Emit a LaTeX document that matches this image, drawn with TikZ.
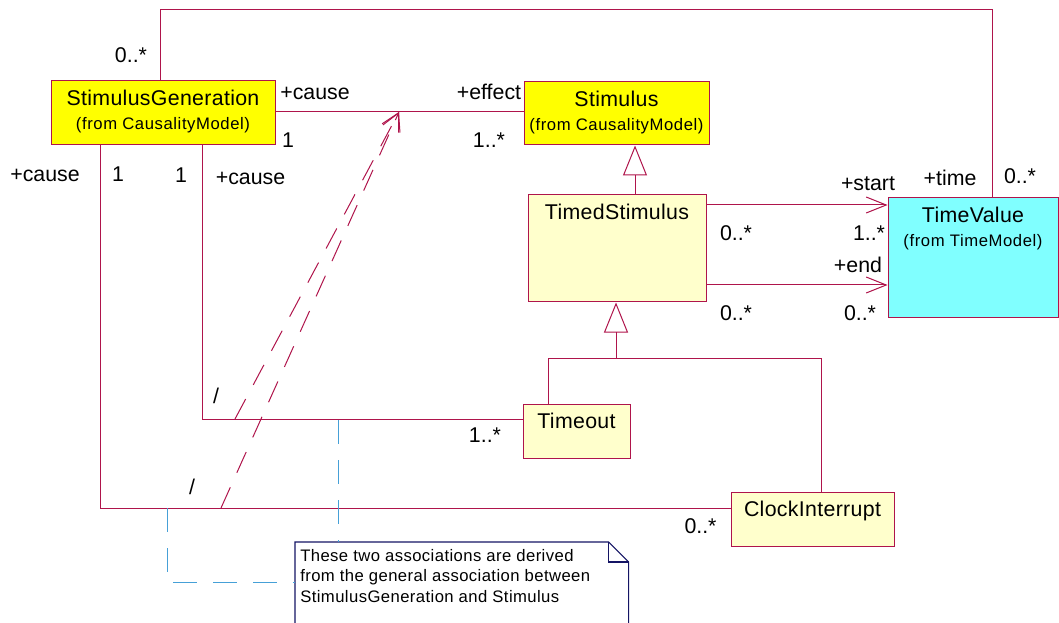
\documentclass[tikz,border=0pt]{standalone}
\usepackage{fontspec}
\setmainfont{Liberation Sans}
\usetikzlibrary{arrows.meta}
\definecolor{ln}{RGB}{175,20,75}
\definecolor{clsY}{RGB}{255,255,0}
\definecolor{clsL}{RGB}{255,255,204}
\definecolor{clsC}{RGB}{128,255,255}
\definecolor{notec}{RGB}{20,20,100}
\definecolor{anc}{RGB}{70,160,215}
\begin{document}
\begin{tikzpicture}[x=0.75pt,y=-0.75pt,
  cls/.style={draw=ln, line width=0.75pt, inner sep=0pt, rectangle},
  cname/.style={font=\fontsize{16}{19}\selectfont\addfontfeature{LetterSpace=1.5}, anchor=base, inner sep=0pt},
  csub/.style={font=\fontsize{12.5}{15}\selectfont\addfontfeature{LetterSpace=3.5}, anchor=base, inner sep=0pt},
  lbl/.style={font=\fontsize{16}{19}\selectfont, inner sep=0pt, text height=11.5pt, text depth=0pt},
  assoc/.style={draw=ln, line width=0.75pt},
  nav/.style={assoc, -{Straight Barb[length=15pt, width=12pt, line width=0.75pt]}},
  derived/.style={assoc, dash pattern=on 17pt off 12pt, -{Straight Barb[length=13pt, width=14pt, line width=0.75pt]}},
  gen/.style={assoc, -{Triangle[open, length=22.5pt, width=18pt, line width=0.75pt]}},
  anchorl/.style={draw=anc, line width=0.75pt, dash pattern=on 18pt off 12pt},
  notetext/.style={font=\fontsize{12.5}{15.4}\selectfont\addfontfeature{LetterSpace=2.5}, align=left, inner sep=0pt, anchor=north west}
]
\useasboundingbox (0,0) rectangle (1059,623);

% classes
\node[cls, fill=clsY, minimum width=168pt, minimum height=48pt] (SG) at (163,113) {};
\node[cname] (SGn) at ([yshift=-19pt]SG.north) {StimulusGeneration};
\node[csub] (SGs) at ([yshift=-36.75pt]SG.north) {(from CausalityModel)};

\node[cls, fill=clsY, minimum width=138.75pt, minimum height=47.25pt] (Stim) at (616.5,113.5) {};
\node[cname] (Stimn) at ([yshift=-19pt]Stim.north) {Stimulus};
\node[csub] (Stims) at ([yshift=-36.75pt]Stim.north) {(from CausalityModel)};

\node[cls, fill=clsL, minimum width=133.5pt, minimum height=80.25pt] (TS) at (617,248.5) {};
\node[cname] (TSn) at ([yshift=-19pt]TS.north) {TimedStimulus};

\node[cls, fill=clsC, minimum width=127.5pt, minimum height=90pt] (TV) at (973,258) {};
\node[cname] (TVn) at ([yshift=-19pt]TV.north) {TimeValue};
\node[csub] (TVs) at ([yshift=-36.75pt]TV.north) {(from TimeModel)};

\node[cls, fill=clsL, minimum width=80.25pt, minimum height=40.5pt] (TO) at (576.5,431) {};
\node[cname] (TOn) at ([yshift=-19pt]TO.north) {Timeout};

\node[cls, fill=clsL, minimum width=122.25pt, minimum height=40.5pt] (CI) at (812.5,519) {};
\node[cname] (CIn) at ([yshift=-19pt]CI.north) {ClockInterrupt};

% associations
\coordinate (c1) at (160,10);
\coordinate (c2) at (992,10);
\draw[assoc] (SG.north -| c1) -- (c1) -- (c2) -- (TV.north -| c2);

\coordinate (ys1) at (0,112);
\draw[assoc] (SG.east |- ys1) -- (Stim.west |- ys1);

\coordinate (b1) at (100,508);
\coordinate (b2) at (202,419);
\draw[assoc] (SG.south -| b1) -- (b1) -- (CI.west |- b1);
\draw[assoc] (SG.south -| b2) -- (b2) -- (TO.west |- b2);

\coordinate (s1) at (0,205);
\coordinate (s2) at (0,285);
\draw[nav] (TS.east |- s1) -- (TV.west |- s1);
\draw[nav] (TS.east |- s2) -- (TV.west |- s2);

% derived associations
\coordinate (dtip) at (399,112);
\coordinate (d1) at (235,419);
\coordinate (d2) at (221,508);
\draw[derived] (d1) -- (dtip);
\draw[derived] (d2) -- (dtip);

% generalizations
\coordinate (g1) at (635,0);
\draw[gen] (TS.north -| g1) -- (Stim.south -| g1);
\coordinate (j) at (616,358);
\coordinate (jt) at (548,358);
\coordinate (jc) at (821,358);
\draw[gen] (j) -- (TS.south -| j);
\draw[assoc] (TO.north -| jt) -- (jt) -- (jc) -- (CI.north -| jc);

% note
\node[inner sep=0pt, minimum width=249.75pt, minimum height=62pt, anchor=north west] (note) at (295,542) {};
\draw[notec, line width=0.8pt] (note.south west) -- (note.north west) -- ([xshift=-15pt]note.north east) -- ([yshift=-15pt]note.north east) -- (note.south east);
\draw[notec, line width=0.8pt] ([xshift=-15pt]note.north east) -- ([xshift=-15pt,yshift=-15pt]note.north east) -- ([yshift=-15pt]note.north east);
\node[notetext] (nt) at (300,549) {These two associations are derived\\from the general association between\\StimulusGeneration and Stimulus};

\coordinate (n1) at (338,420);
\draw[anchorl] (n1) -- (note.north -| n1);
\coordinate (n2) at (167,508);
\coordinate (n3) at (167,582);
\draw[anchorl] (n2) -- (n3) -- (note.west |- n3);

% labels
\node[lbl] (L1) at (131,55) {0..*};
\node[lbl] (L2) at (315,92) {+cause};
\node[lbl] (L3) at (288,140) {1};
\node[lbl] (L4) at (45,174) {+cause};
\node[lbl] (L5) at (118,173.5) {1};
\node[lbl] (L6) at (181,175) {1};
\node[lbl] (L7) at (250.5,177) {+cause};
\node[lbl] (L8) at (489,91.5) {+effect};
\node[lbl] (L9) at (489,139.5) {1..*};
\node[lbl] (L10) at (868,182.5) {+start};
\node[lbl] (L11) at (950,177.5) {+time};
\node[lbl] (L12) at (1020,175.5) {0..*};
\node[lbl] (L13) at (736,232.5) {0..*};
\node[lbl] (L14) at (869,232.5) {1..*};
\node[lbl] (L15) at (858,264.5) {+end};
\node[lbl] (L16) at (736,312.5) {0..*};
\node[lbl] (L17) at (860,312.5) {0..*};
\node[lbl] (L18) at (485,435) {1..*};
\node[lbl] (L19) at (700.5,525.5) {0..*};
\node[lbl] (L20) at (216,396) {/};
\node[lbl] (L21) at (192,487) {/};
\end{tikzpicture}
\end{document}
